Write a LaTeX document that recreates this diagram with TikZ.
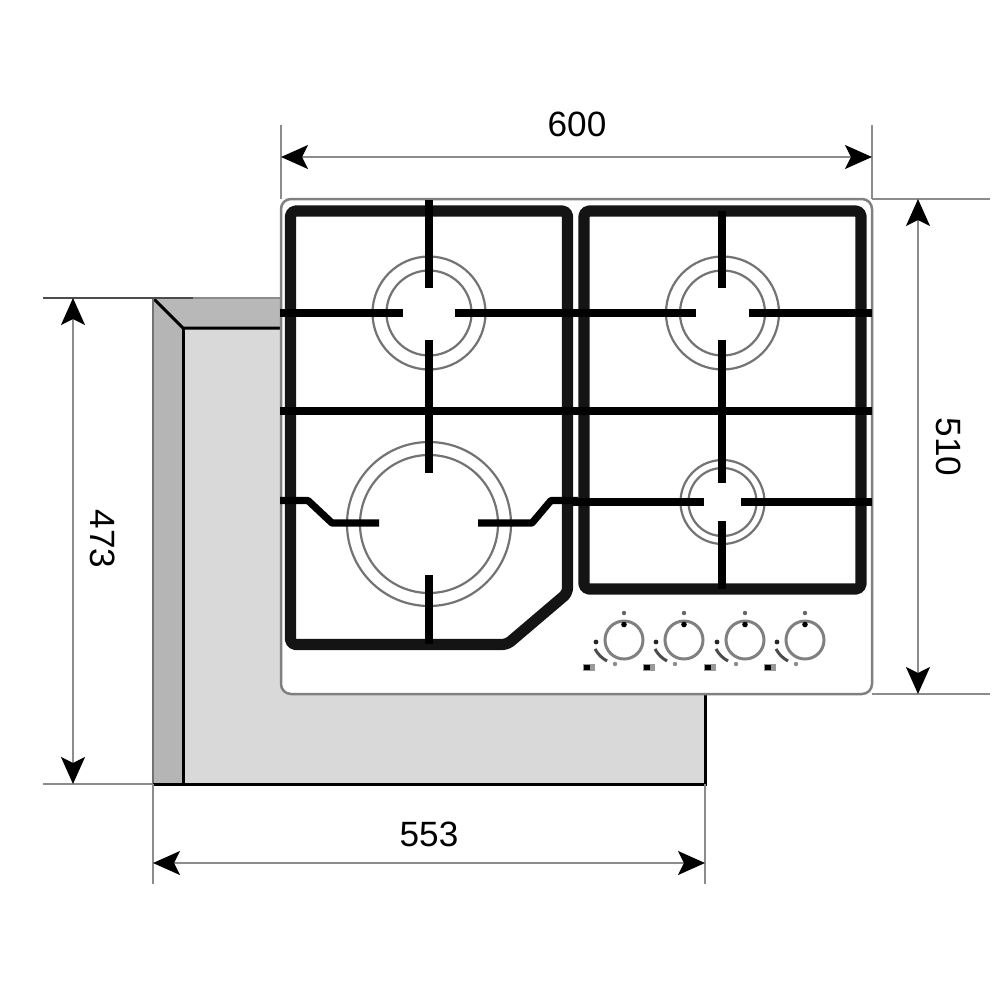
\documentclass[tikz,border=0pt]{standalone}
\usepackage{fontspec}
\setmainfont{Liberation Sans}
\usepackage{xcolor}
\usetikzlibrary{arrows.meta}
\definecolor{basefill}{gray}{.85}
\definecolor{sidefill}{gray}{.71}
\definecolor{topfill}{gray}{.72}
\tikzset{
  grate/.style={line width=1.12mm,line join=round,rounded corners=.5mm,draw=black!92},
  bar/.style={line width=.72mm,draw=black},
  ring/.style={line width=.22mm,draw=black!55},
  knob/.style={line width=.3mm,draw=black!50},
  extline/.style={line width=.17mm,draw=black!45},
  dimline/.style={line width=.17mm,draw=black!45,{Stealth[length=2.7mm,width=2.4mm,inset=.6mm,fill=black,color=black]}-{Stealth[length=2.7mm,width=2.4mm,inset=.6mm,fill=black,color=black]}},
  dimtext/.style={font=\fontsize{10}{12}\selectfont,inner sep=0pt}
}
\begin{document}
\begin{tikzpicture}[x=.1mm,y=-.1mm]
 \useasboundingbox (0,0) rectangle (1000,1000);

 % cabinet cut-out
 \fill[basefill] (183,328) rectangle (705,784);
 \fill[sidefill] (153,298) -- (183,328) -- (183,784) -- (153,784) -- cycle;
 \fill[topfill] (153,298) -- (281,298) -- (281,328) -- (183,328) -- cycle;
 \draw[line width=.3mm] (153,298) -- (183,328) -- (281,328);
 \draw[line width=.3mm] (183,328) -- (183,784);
 \draw[line width=.2mm,draw=black!55] (153,298) -- (153,784);
 \draw[line width=.3mm] (153,784) -- (705,784) -- (705,695);
 \draw[line width=.22mm,draw=black!70] (43,298) -- (193,298);
 \draw[extline] (193,298) -- (281,298);

 % hob plate
 \draw[line width=.25mm,draw=black!50,fill=white,rounded corners=1mm] (281,199) rectangle (872,694);

 % burners
 \foreach \cx/\cy/\ro/\ri in {429/313/56.5/42.5, 429/524/82/69, 722.5/313/56.5/42.5, 722.5/502/42/34} {
  \draw[ring] (\cx,\cy) circle (\ro);
  \draw[ring] (\cx,\cy) circle (\ri);
 }

 % pan supports
 \draw[grate] (290.5,211) -- (567.5,211) -- (567.5,593) -- (507,644.5) -- (290.5,644.5) -- cycle;
 \draw[grate] (584,211) -- (861,211) -- (861,589) -- (584,589) -- cycle;
 \draw[bar] (429,200) -- (429,288);
 \draw[bar] (429,340) -- (429,473);
 \draw[bar] (429,575) -- (429,644);
 \draw[bar] (280,313) -- (403,313);
 \draw[bar] (455,313) -- (578,313);
 \draw[line width=.8mm] (280,411) -- (578,411);
 \draw[bar,line join=round] (280,500.5) -- (308,500.5) -- (332,523) -- (379,523);
 \draw[bar,line join=round] (478,523) -- (532,523) -- (551,500.5) -- (578,500.5);
 \draw[bar] (722,211) -- (722,288);
 \draw[bar] (722,340) -- (722,483);
 \draw[bar] (722,521) -- (722,589);
 \draw[bar] (572,313) -- (696,313);
 \draw[bar] (749,313) -- (872,313);
 \draw[line width=.8mm] (572,411) -- (872,411);
 \draw[bar] (572,502) -- (704,502);
 \draw[bar] (741,502) -- (872,502);

 % knobs
 \foreach \kx in {624,684,745,805} {
  \draw[knob] (\kx,640) circle (19);
  \fill[black] (\kx,624.5) circle (2.8);
  \fill[black!60] (\kx,613) circle (2.2);
  \fill[black!85] (\kx-28,642) circle (2.4);
  \fill[black!45] (\kx-9,664) circle (2.2);
  \draw[line width=.3mm,draw=black!70] (\kx-29,649) to[bend right=15] (\kx-17,661);
  \fill[black!40] (\kx-41,664) rectangle (\kx-29,671);
  \fill[black] (\kx-40,665) rectangle (\kx-34,670);
 }

 % dimensions
 \coordinate (wl) at (281,157);
 \coordinate (wr) at (872,157);
 \coordinate (ht) at (918,199);
 \coordinate (hb) at (918,694);
 \coordinate (dt) at (73,298);
 \coordinate (db) at (73,784);
 \coordinate (cl) at (153,863);
 \coordinate (cr) at (705,863);
 \draw[extline] (281,125) -- (281,199);
 \draw[extline] (872,125) -- (872,199);
 \draw[extline] (872,199) -- (990,199);
 \draw[extline] (872,694) -- (990,694);
 \draw[extline] (43,784) -- (153,784);
 \draw[extline] (153,784) -- (153,884);
 \draw[extline] (705,784) -- (705,884);
 \draw[dimline] (wl) -- (wr);
 \draw[dimline] (ht) -- (hb);
 \draw[dimline] (dt) -- (db);
 \draw[dimline] (cl) -- (cr);
 \node[dimtext] (w) at (577,124) {600};
 \node[dimtext,rotate=-90] (h) at (949,447) {510};
 \node[dimtext,rotate=-90] (d) at (103,539) {473};
 \node[dimtext] (c) at (429,834) {553};
\end{tikzpicture}
\end{document}
